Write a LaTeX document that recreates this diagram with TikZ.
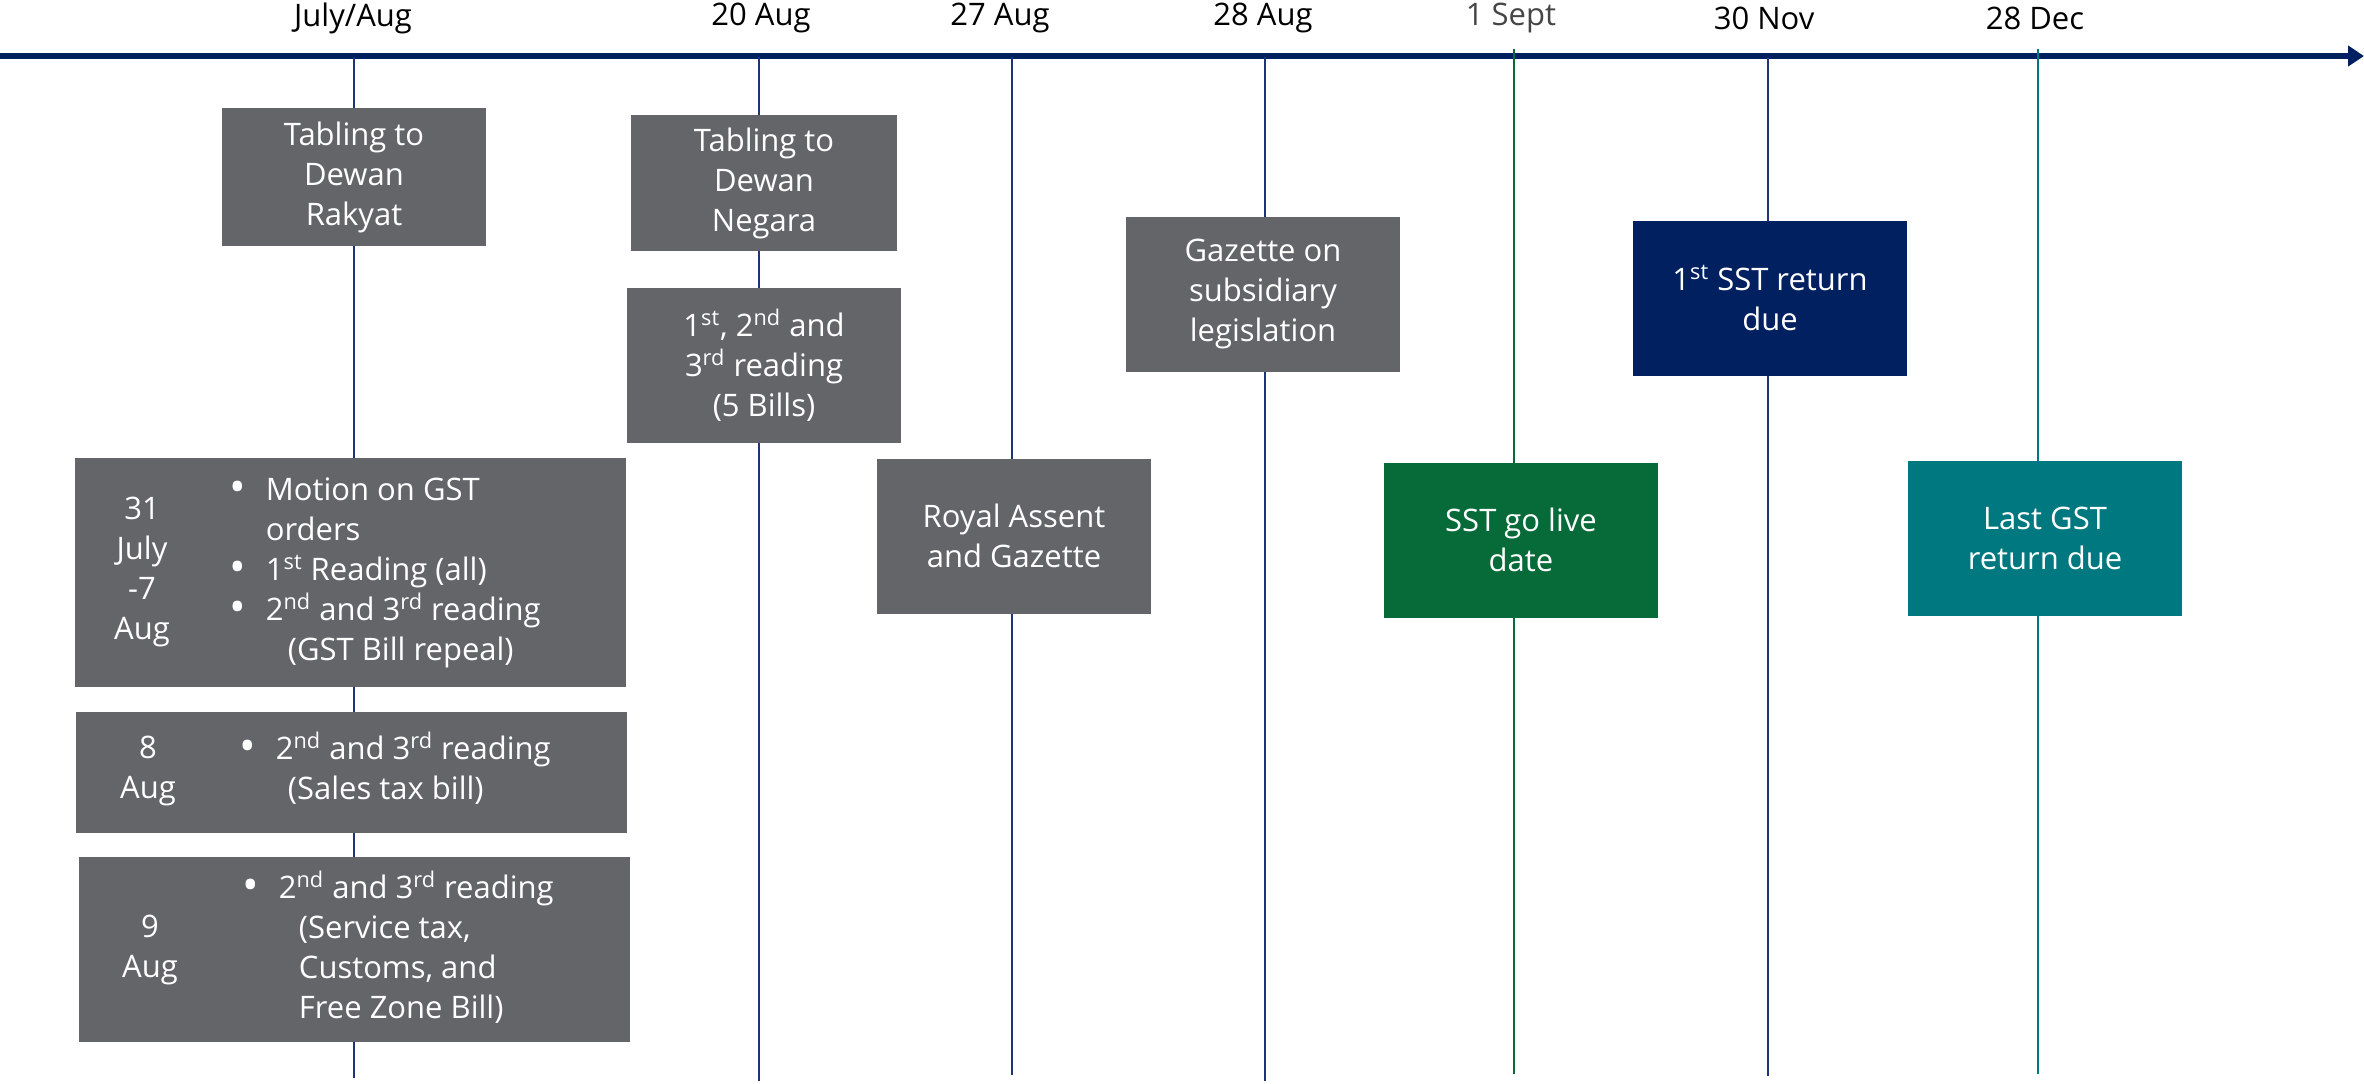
\documentclass[tikz,border=0pt]{standalone}
\usepackage{fontspec}
\setmainfont{Open Sans}
\usetikzlibrary{arrows.meta}
\definecolor{navy}{HTML}{002060}
\definecolor{ticknavy}{HTML}{1B3578}
\definecolor{boxgrey}{HTML}{636569}
\definecolor{livegreen}{HTML}{066B38}
\definecolor{gstteal}{HTML}{00787F}
\definecolor{septgrey}{HTML}{454545}
\newcommand{\bigbul}{\raisebox{-1.2pt}{\fontsize{22}{20}\selectfont\textbullet}}
\begin{document}
\begin{tikzpicture}
  [x=0.5pt,y=-0.5pt,
   every node/.style={font=\fontsize{15.5}{20}\selectfont},
   axis/.style={draw=navy,line width=3pt,-{Triangle[length=8pt,width=10pt]}},
   tick/.style={draw=ticknavy,line width=1pt},
   datelabel/.style={text=black},
   box/.style={fill=boxgrey,text=white,align=center,inner sep=0pt,
     minimum width=137pt,minimum height=77.5pt},
   wide/.style={box,minimum width=275.5pt},
   txt/.style={text=white,align=center,inner sep=0pt}
  ]
  \useasboundingbox (0,0) rectangle (2364,1083);

  \coordinate (axL) at (0,56);
  \coordinate (axR) at (2364,56);
  \draw[axis] (axL) -- (axR);

  \node[datelabel] (dJul) at (353,18) {July/Aug};
  \node[datelabel] (d20) at (761,18) {20 Aug};
  \node[datelabel] (d27) at (1000,18) {27 Aug};
  \node[datelabel] (d28) at (1263,18) {28 Aug};
  \node[datelabel,text=septgrey] (dSep) at (1511,18) {1 Sept};
  \node[datelabel] (dNov) at (1764,18) {30 Nov};
  \node[datelabel] (dDec) at (2035,18) {28 Dec};

  \coordinate (tJul) at (354,57);  \coordinate (bJul) at (354,1078);
  \coordinate (t20) at (759,57);   \coordinate (b20) at (759,1081);
  \coordinate (t27) at (1012,57);  \coordinate (b27) at (1012,1075);
  \coordinate (t28) at (1265,57);  \coordinate (b28) at (1265,1081);
  \coordinate (tSep) at (1514,49); \coordinate (bSep) at (1514,1074);
  \coordinate (tNov) at (1768,57); \coordinate (bNov) at (1768,1076);
  \coordinate (tDec) at (2038,49); \coordinate (bDec) at (2038,1074);
  \draw[tick] (tJul) -- (bJul);
  \draw[tick] (t20) -- (b20);
  \draw[tick] (t27) -- (b27);
  \draw[tick] (t28) -- (b28);
  \draw[tick,draw=livegreen] (tSep) -- (bSep);
  \draw[tick] (tNov) -- (bNov);
  \draw[tick,draw=gstteal] (tDec) -- (bDec);

  \node[box,minimum width=132pt,minimum height=69pt] (rakyat) at (354,177)
    {Tabling to\\Dewan\\Rakyat};
  \node[box,minimum width=133pt,minimum height=68pt] (negara) at (764,183)
    {Tabling to\\Dewan\\Negara};
  \node[box] (bills) at (764,365)
    {1\textsuperscript{st}, 2\textsuperscript{nd} and\\3\textsuperscript{rd} reading\\(5 Bills)};
  \node[box] (assent) at (1014,536)
    {Royal Assent\\and Gazette};
  \node[box] (subsid) at (1263,294)
    {Gazette on\\subsidiary\\legislation};
  \node[box,fill=livegreen] (golive) at (1521,540)
    {SST go live\\date};
  \node[box,fill=navy] (sstdue) at (1770,298)
    {1\textsuperscript{st} SST return\\due};
  \node[box,fill=gstteal] (gstdue) at (2045,538)
    {Last GST\\return due};

  \node[wide,minimum height=114.5pt] (julbox) at (350,572) {};
  \node[txt] (juldate) at (142,572) {31\\July\\-7\\Aug};
  \node[txt,anchor=west] (jultxt) at (229,572)
    {\begin{tabular}{@{}l@{\hspace{10pt}}l@{}}
       \bigbul & Motion on GST\\
               & orders\\
       \bigbul & 1\textsuperscript{st} Reading (all)\\
       \bigbul & 2\textsuperscript{nd} and 3\textsuperscript{rd} reading\\
               & \hspace{11pt}(GST Bill repeal)
     \end{tabular}};

  \node[wide,minimum height=60.5pt] (augeight) at (351,772) {};
  \node[txt] (eightdate) at (148,771) {8\\Aug};
  \node[txt,anchor=west] (eighttxt) at (239,771)
    {\begin{tabular}{@{}l@{\hspace{10pt}}l@{}}
       \bigbul & 2\textsuperscript{nd} and 3\textsuperscript{rd} reading\\
               & \hspace{6pt}(Sales tax bill)
     \end{tabular}};

  \node[wide,minimum height=92.5pt] (augnine) at (354,949) {};
  \node[txt] (ninedate) at (150,950) {9\\Aug};
  \node[txt,anchor=west] (ninetxt) at (242,950)
    {\begin{tabular}{@{}l@{\hspace{10pt}}l@{}}
       \bigbul & 2\textsuperscript{nd} and 3\textsuperscript{rd} reading\\
               & \hspace{10pt}(Service tax,\\
               & \hspace{10pt}Customs, and\\
               & \hspace{10pt}Free Zone Bill)
     \end{tabular}};
\end{tikzpicture}
\end{document}
